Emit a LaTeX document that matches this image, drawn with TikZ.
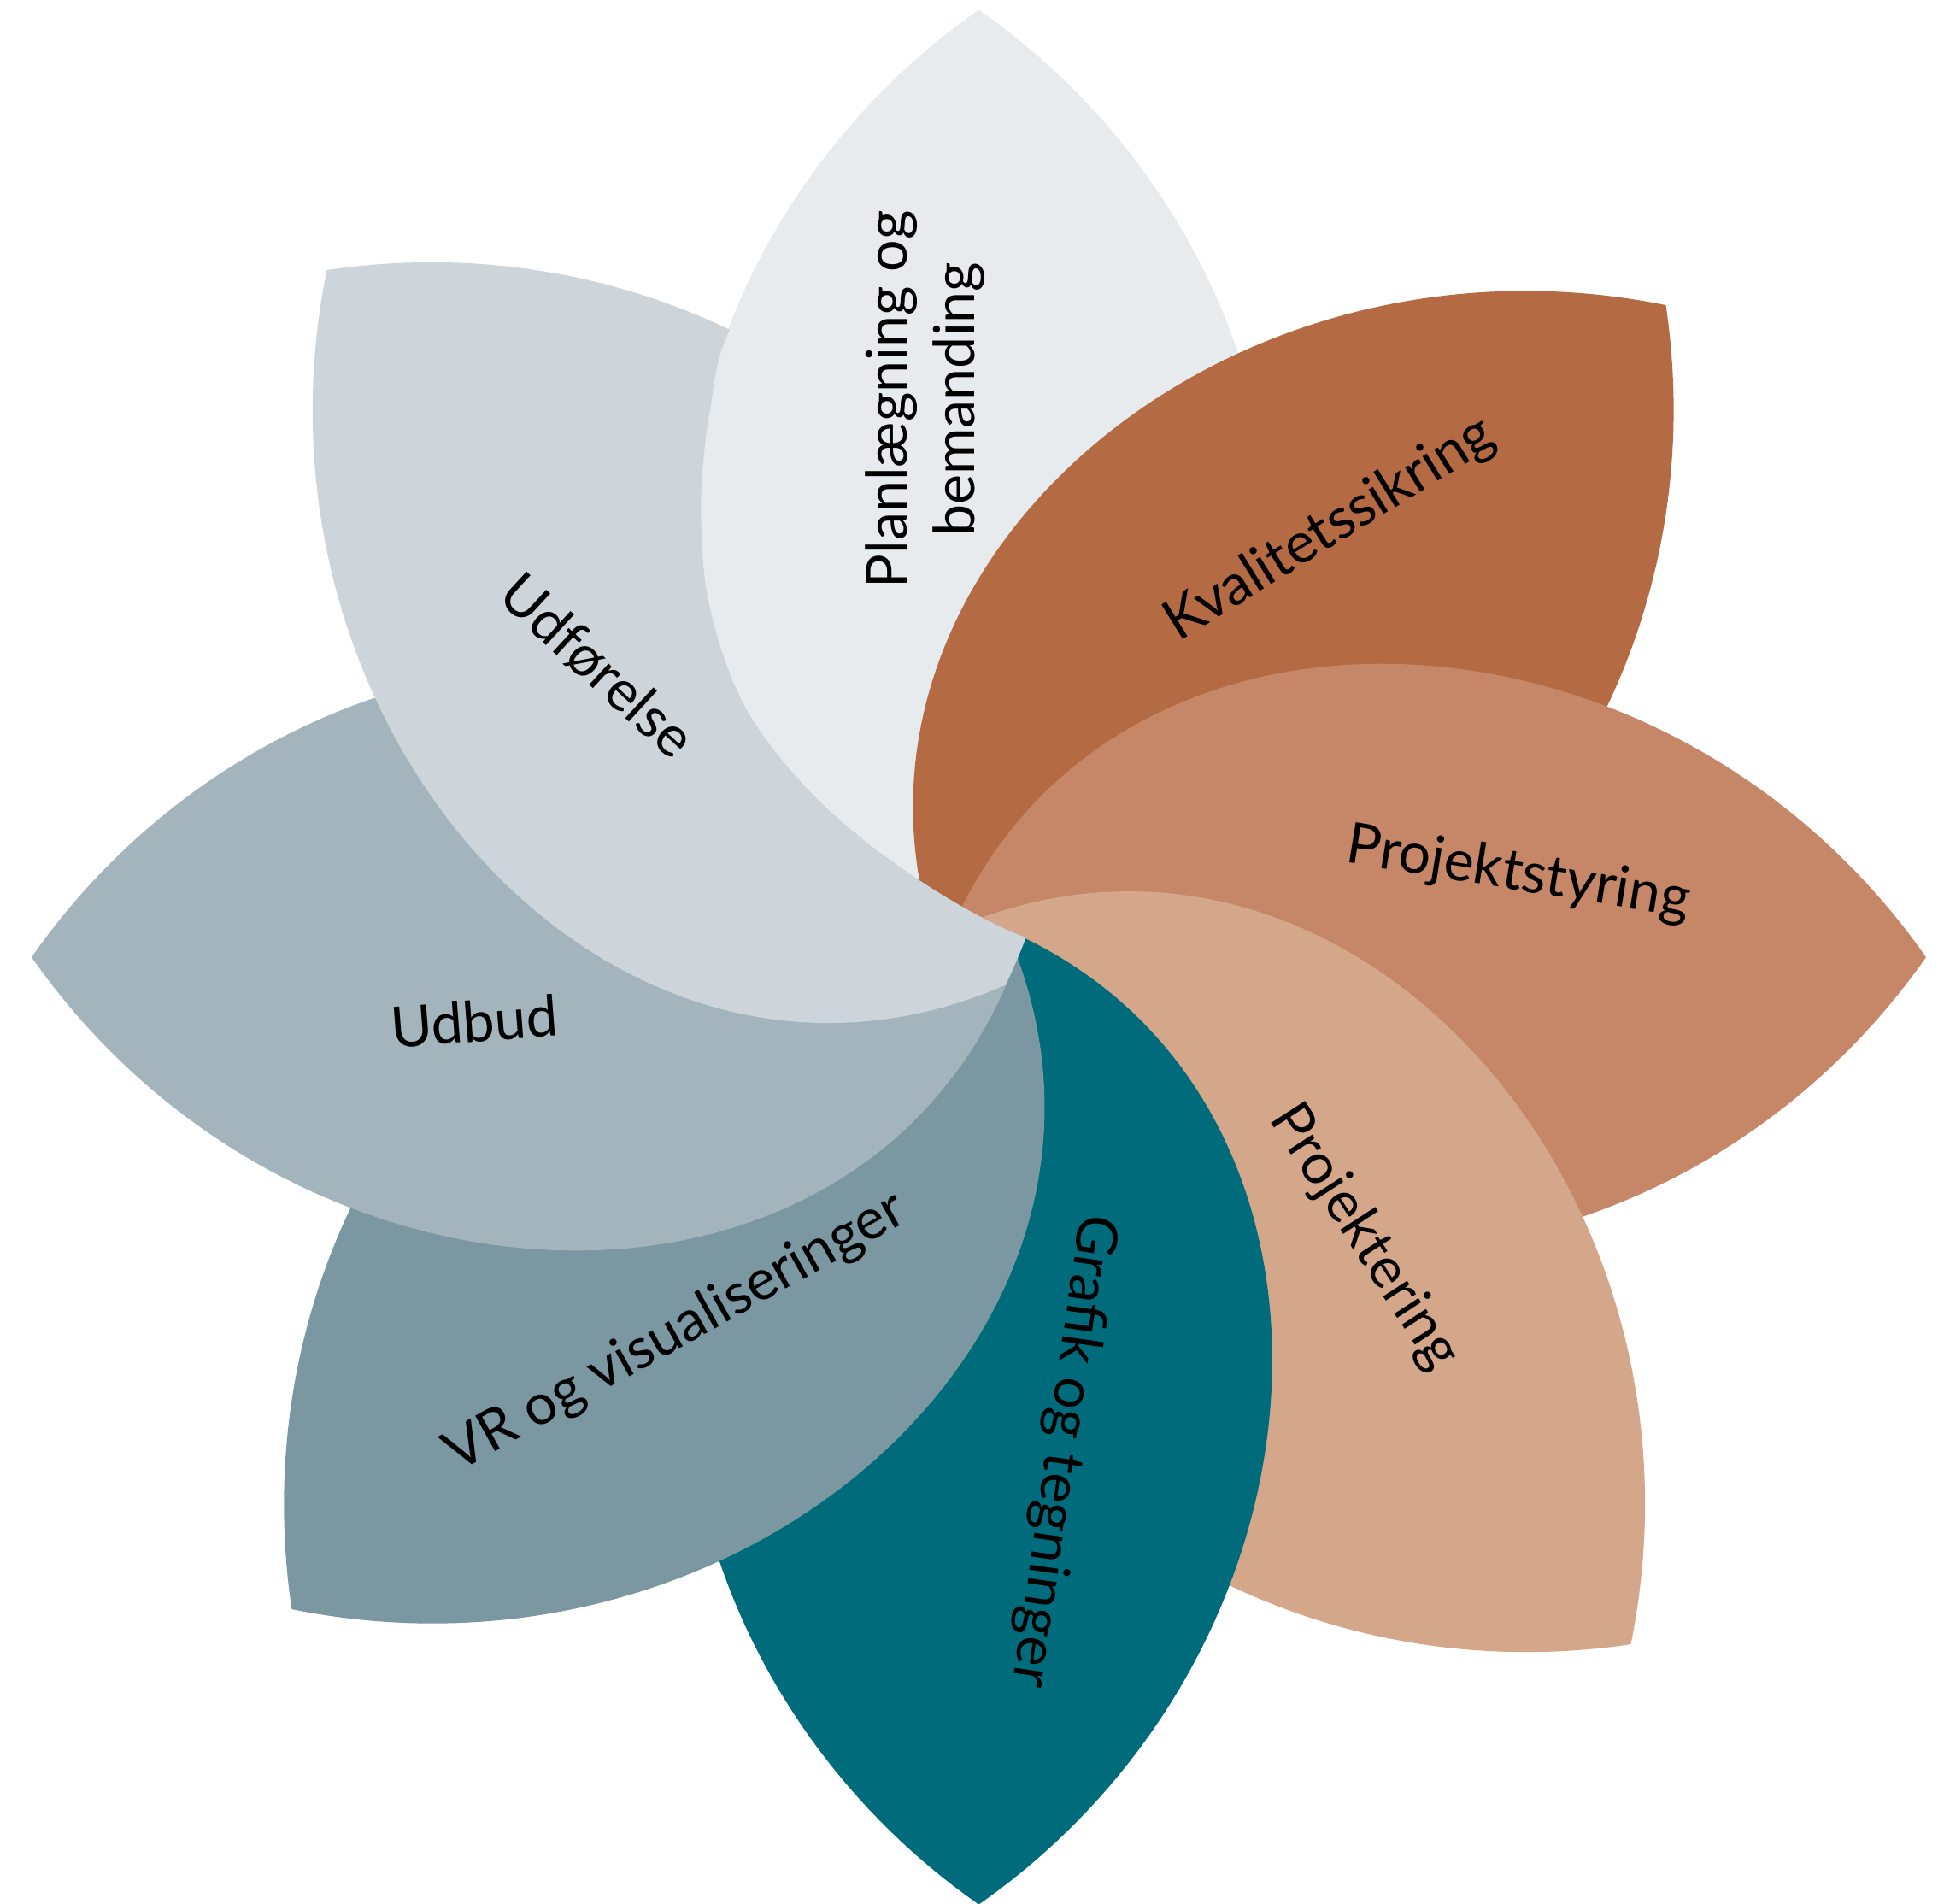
\documentclass[tikz,border=0pt]{standalone}
\usepackage{fontspec}
\setmainfont{Lato}
\definecolor{cPlan}{HTML}{E7EBEE}
\definecolor{cUdf}{HTML}{CDD4DA}
\definecolor{cUdb}{HTML}{A3B4BD}
\definecolor{cVR}{HTML}{7B97A2}
\definecolor{cGraf}{HTML}{006B7A}
\definecolor{cPkt}{HTML}{D4A78B}
\definecolor{cPst}{HTML}{C58767}
\definecolor{cKval}{HTML}{B46A43}
\tikzset{
  lbl/.style={font=\fontsize{13}{15.5}\selectfont, text=black, align=center, inner sep=0pt},
}
\newcommand{\petalfill}[2]{\fill[#1,rotate=#2] (764,0) .. controls (546,311) and (85,320) .. (-31,0) .. controls (85,-320) and (546,-311) .. cycle;}
\begin{document}
\begin{tikzpicture}[x=0.1mm,y=0.1mm]
\useasboundingbox[fill=white] (-789.5,-763) rectangle (778.5,772);
\petalfill{cPlan}{90}
\petalfill{cKval}{43.5}
\petalfill{cPst}{0}
\petalfill{cPkt}{-46.5}
\begin{scope}[even odd rule]
\clip (-2000,-2000) -- (-2000,2000) -- (2000,2000) -- (2000,-2000) -- cycle
  plot[smooth,tension=0.5] coordinates {(0,764) (-105,655) (-198,512) (-217,440) (-224,372) (-221,305) (-209,252) (-189,202) (-160,160) (-125,122) (-85,88) (-45,60) (-5,36) (35,17) (80.5,4)} -- (200,-10) -- (250,400) -- cycle;
\petalfill{cGraf}{-90}
\petalfill{cVR}{223.5}
\petalfill{cUdb}{180}
\petalfill{cUdf}{133.5}
\end{scope}
\node[lbl, rotate=90] (plan) at (-43.5,450) {Planlægning og\\bemanding};
\node[lbl, rotate=-42.6] (udf) at (-307.5,235) {Udførelse};
\node[lbl, rotate=4.4] (udb) at (-407,-51.6) {Udbud};
\node[lbl, rotate=29.2] (vr) at (-244.5,-303) {VR og visualiseringer};
\node[lbl, rotate=-98.2] (graf) at (67.5,-398) {Grafik og tegninger};
\node[lbl, rotate=-57] (pkt) at (310.5,-226) {Projektering};
\node[lbl, rotate=-9.2] (pst) at (435,66.8) {Projektstyring};
\node[lbl, rotate=31.8] (kval) at (283.3,344.7) {Kvalitetssikring};
\end{tikzpicture}
\end{document}
